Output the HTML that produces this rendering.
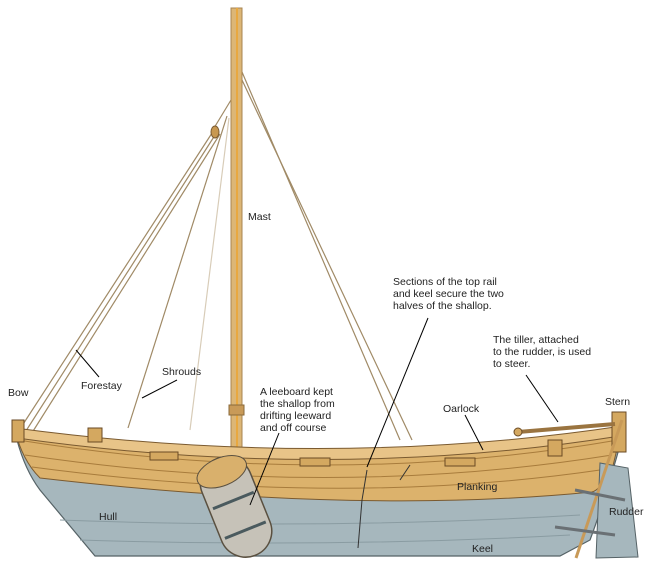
<!DOCTYPE html>
<html><head><meta charset="utf-8"><style>
html,body{margin:0;padding:0;background:#fff;}
svg{display:block}
text{font-family:"Liberation Sans",sans-serif;font-size:10.5px;fill:#222}
</style></head><body>
<svg width="650" height="581" viewBox="0 0 650 581" xmlns="http://www.w3.org/2000/svg">
<!-- rigging -->
<g stroke="#a08a66" stroke-width="1.2" fill="none">
<line x1="214" y1="130" x2="18" y2="432"/>
<line x1="217" y1="132" x2="24" y2="434"/>
<line x1="220" y1="134" x2="30" y2="436"/>
<line x1="231" y1="100" x2="214" y2="128"/>
<line x1="227" y1="116" x2="128" y2="428"/>
<line x1="229" y1="118" x2="190" y2="430" stroke="#d8ccb8"/>
<line x1="242" y1="72" x2="400" y2="440"/>
<line x1="242" y1="80" x2="412" y2="440"/>
</g>
<ellipse cx="215" cy="132" rx="4" ry="6" fill="#c89850" stroke="#7a5a30"/>
<!-- mast -->
<rect x="231" y="8" width="11" height="440" fill="#dcb676" stroke="#a88450" stroke-width="1"/>
<rect x="236" y="8" width="2" height="440" fill="#e8a840"/>
<rect x="229" y="405" width="15" height="10" fill="#c89a58" stroke="#8a6a3a"/>
<!-- hull grey -->
<path d="M17,440 Q330,490 622,438 Q605,500 590,540 L560,556 L95,556 L40,490 Q25,470 17,440 Z" fill="#a6b7bd" stroke="#556266" stroke-width="1.2"/>
<path d="M60,520 Q330,530 580,515 M80,540 Q330,548 570,535" stroke="#8a9ca2" fill="none"/>
<!-- wood band -->
<path d="M15,430 Q330,480 622,428 L612,470 Q600,490 592,492 Q360,515 40,478 Q22,460 15,430 Z" fill="#dcb26c" stroke="#7a5a30" stroke-width="1"/>
<path d="M18,440 Q330,490 618,440 M25,455 Q330,500 612,455 M32,467 Q340,508 600,470" stroke="#a87c3c" fill="none"/>
<path d="M15,428 Q330,470 622,426 L620,436 Q330,482 17,438 Z" fill="#e8c488" stroke="#7a5a30"/>
<!-- gunwale fittings -->
<g fill="#d4a860" stroke="#6a4a24">
<rect x="12" y="420" width="12" height="22"/>
<rect x="88" y="428" width="14" height="14"/>
<rect x="150" y="452" width="28" height="8"/>
<rect x="300" y="458" width="30" height="8"/>
<rect x="445" y="458" width="30" height="8"/>
<rect x="548" y="440" width="14" height="16"/>
<rect x="612" y="412" width="14" height="40"/>
</g>
<!-- section lines -->
<path d="M367,470 L362,500 L358,548" stroke="#333" fill="none"/>
<path d="M410,465 L400,480" stroke="#333" fill="none"/>
<!-- tiller -->
<line x1="518" y1="432" x2="615" y2="424" stroke="#9a7440" stroke-width="4"/>
<circle cx="518" cy="432" r="4" fill="#d4a860" stroke="#6a4a24"/>
<!-- rudder -->
<path d="M600,463 L628,468 L638,557 L596,558 Z" fill="#a6b7bd" stroke="#556266"/>
<line x1="622" y1="420" x2="576" y2="558" stroke="#c89a58" stroke-width="3"/>
<line x1="575" y1="490" x2="625" y2="500" stroke="#6a7074" stroke-width="3"/>
<line x1="555" y1="527" x2="615" y2="535" stroke="#6a7074" stroke-width="3"/>
<!-- leeboard -->
<g transform="rotate(-22 236 507)">
<rect x="210" y="455" width="52" height="104" rx="26" fill="#c6c2b8" stroke="#5a5040" stroke-width="1.5"/>
<rect x="210" y="455" width="52" height="28" rx="26" fill="#d9b06c" stroke="#5a5040"/>
<line x1="214" y1="500" x2="258" y2="500" stroke="#4a5a5e" stroke-width="3"/>
<line x1="214" y1="532" x2="258" y2="532" stroke="#4a5a5e" stroke-width="3"/>
</g>
<!-- leader lines -->
<g stroke="#000" stroke-width="1">
<line x1="76" y1="350" x2="99" y2="377"/>
<line x1="177" y1="380" x2="142" y2="398"/>
<line x1="428" y1="318" x2="367" y2="467"/>
<line x1="526" y1="375" x2="558" y2="422"/>
<line x1="465" y1="415" x2="483" y2="450"/>
<line x1="279" y1="433" x2="250" y2="505"/>
</g>
<!-- labels -->
<text x="248" y="220">Mast</text>
<text x="393" y="285">Sections of the top rail</text>
<text x="393" y="297">and keel secure the two</text>
<text x="393" y="309">halves of the shallop.</text>
<text x="493" y="343">The tiller, attached</text>
<text x="493" y="355">to the rudder, is used</text>
<text x="493" y="367">to steer.</text>
<text x="8" y="396">Bow</text>
<text x="81" y="389">Forestay</text>
<text x="162" y="375">Shrouds</text>
<text x="260" y="395">A leeboard kept</text>
<text x="260" y="407">the shallop from</text>
<text x="260" y="419">drifting leeward</text>
<text x="260" y="431">and off course</text>
<text x="443" y="412">Oarlock</text>
<text x="605" y="405">Stern</text>
<text x="457" y="490" fill="#fff">Planking</text>
<text x="99" y="520">Hull</text>
<text x="609" y="515">Rudder</text>
<text x="472" y="552">Keel</text>
</svg>
</body></html>
